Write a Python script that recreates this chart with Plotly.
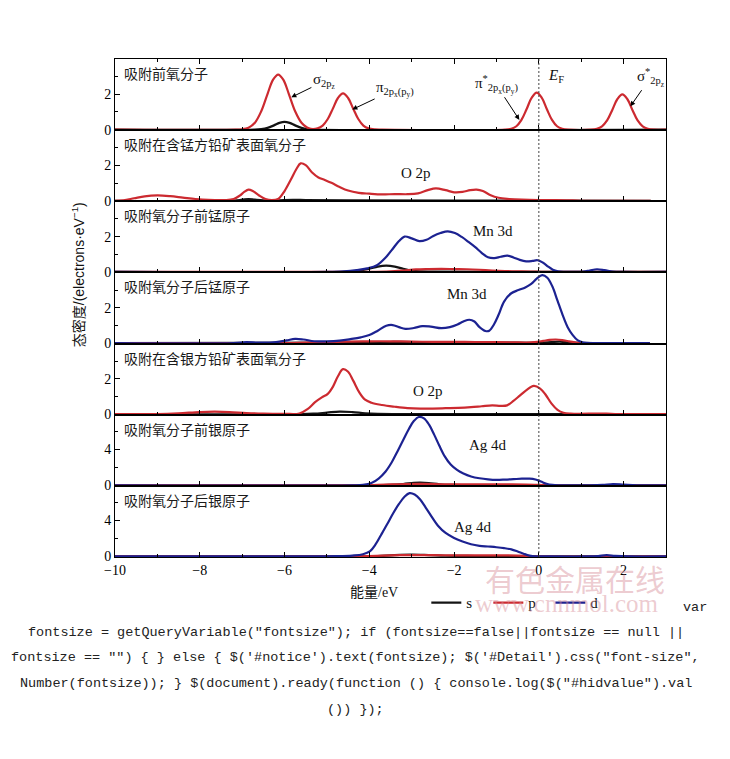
import plotly.graph_objects as go
from plotly.subplots import make_subplots

# ---------------- data ----------------
panel_titles = ["吸附前氧分子", "吸附在含锰方铅矿表面氧分子", "吸附氧分子前锰原子",
                "吸附氧分子后锰原子", "吸附在含银方铅矿表面氧分子", "吸附氧分子前银原子",
                "吸附氧分子后银原子"]
orbital_labels = [None, "O 2p", "Mn 3d", "Mn 3d", "O 2p", "Ag 4d", "Ag 4d"]
orbital_label_x = [None, -2.91, -1.08, -1.69, -2.61, -1.21, -1.56]
orbital_label_y = [None, 1.58, 2.34, 2.80, 1.29, 4.44, 3.25]
y_max = [4.0, 4.0, 4.0, 4.0, 4.0, 7.8, 7.8]
y_major = [[0, 2]] * 5 + [[0, 4]] * 2
y_minor = [[1, 3]] * 5 + [[2, 6]] * 2
x_ticks = [-10, -8, -6, -4, -2, 0, 2]

# panel 1: O2 molecule before adsorption
p1_s_x = [-10, -6.7, -6.55, -6.4, -6.25, -6.12, -6.0, -5.88, -5.75, -5.6, -5.45, -5.3, 3.0]
p1_s_y = [0, 0, 0.03, 0.1, 0.24, 0.38, 0.44, 0.38, 0.24, 0.1, 0.03, 0, 0]
p1_p_x = [-10, -7.15, -7.0, -6.85, -6.7, -6.55, -6.4, -6.27, -6.15, -6.03, -5.9, -5.75, -5.6,
          -5.47, -5.38, -5.22, -5.1, -4.98, -4.86, -4.74, -4.62, -4.5, -4.38, -4.26, -4.14,
          -4.02, -3.87, -3.7, -0.8, -0.65, -0.53, -0.41, -0.29, -0.17, -0.05, 0.07, 0.19,
          0.31, 0.43, 0.55, 0.7, 1.22, 1.37, 1.49, 1.61, 1.73, 1.85, 1.97, 2.09, 2.21, 2.33,
          2.45, 2.57, 2.72, 3.0]
p1_p_y = [0, 0, 0.02, 0.11, 0.39, 1.04, 2.03, 2.83, 3.12, 2.83, 2.03, 1.04, 0.39,
          0.12, 0.04, 0.07, 0.23, 0.60, 1.19, 1.79, 2.05, 1.79, 1.19, 0.60, 0.23,
          0.07, 0.01, 0, 0, 0.05, 0.19, 0.55, 1.15, 1.80, 2.09, 1.80, 1.15,
          0.55, 0.19, 0.05, 0, 0, 0.05, 0.19, 0.52, 1.10, 1.72, 2.0, 1.72, 1.10, 0.52,
          0.19, 0.05, 0, 0]

# panel 2: O on Mn-doped galena
p2_s_x = [-10, -7.2, -7.0, -6.85, -6.7, -6.5, -6.2, -5.8, -5.5, -4.5, 0, 2.64]
p2_s_y = [0, 0.01, 0.06, 0.1, 0.06, 0.02, 0.02, 0.05, 0.04, 0.02, 0.01, 0]
p2_p_x = [-10, -9.8, -9.55, -9.3, -9.0, -8.7, -8.4, -8.1, -7.8, -7.4, -7.2, -7.05, -6.95,
          -6.85, -6.75, -6.6, -6.45, -6.3, -6.15, -6.0, -5.85, -5.72, -5.62, -5.5, -5.35,
          -5.2, -5.05, -4.88, -4.7, -4.5, -4.25, -4.0, -3.7, -3.4, -3.1, -2.85, -2.62,
          -2.43, -2.2, -2.0, -1.8, -1.62, -1.47, -1.32, -1.15, -0.95, -0.7, -0.4, 0.0,
          0.4, 0.8, 1.1, 2.64]
p2_p_y = [0, 0.03, 0.14, 0.25, 0.3, 0.26, 0.18, 0.1, 0.05, 0.04, 0.1, 0.3, 0.5,
          0.63, 0.55, 0.3, 0.1, 0.03, 0.1, 0.55, 1.2, 1.8, 2.12, 2.02, 1.6,
          1.32, 1.18, 1.0, 0.78, 0.58, 0.45, 0.4, 0.36, 0.38, 0.37, 0.42, 0.6,
          0.7, 0.6, 0.48, 0.5, 0.6, 0.63, 0.55, 0.33, 0.17, 0.1, 0.06, 0.04,
          0.04, 0.02, 0, 0]

# panel 3: Mn atom before O2 adsorption
p3_s_x = [-10, -4.6, -4.3, -4.0, -3.8, -3.6, -3.4, -3.2, -3.0, -2.8, -2.5, 0, 3.0]
p3_s_y = [0, 0, 0.05, 0.18, 0.3, 0.35, 0.3, 0.18, 0.08, 0.03, 0.02, 0, 0]
p3_p_x = [-10, -4.0, -3.5, -3.2, -2.9, -2.6, -2.3, -2.0, -1.7, -1.4, -1.1, -0.8, -0.5, -0.2, 0.2, 3.0]
p3_p_y = [0, 0, 0.03, 0.08, 0.14, 0.16, 0.17, 0.16, 0.15, 0.12, 0.08, 0.05, 0.03, 0.02, 0, 0]
p3_d_x = [-10, -5.0, -4.6, -4.3, -4.05, -3.82, -3.62, -3.45, -3.3, -3.17, -3.0, -2.82,
          -2.65, -2.5, -2.32, -2.15, -1.98, -1.82, -1.66, -1.5, -1.35, -1.2, -1.05, -0.9,
          -0.74, -0.6, -0.45, -0.3, -0.15, -0.03, 0.1, 0.22, 0.33, 0.45, 0.6, 0.85, 1.05,
          1.2, 1.37, 1.55, 1.75, 2.0, 3.0]
p3_d_y = [0, 0, 0.03, 0.1, 0.2, 0.38, 0.8, 1.3, 1.75, 2.0, 1.9, 1.74,
          1.82, 2.02, 2.2, 2.3, 2.2, 1.98, 1.7, 1.4, 1.08, 0.83, 0.78, 0.86,
          0.92, 0.82, 0.68, 0.6, 0.62, 0.66, 0.52, 0.3, 0.12, 0.03, 0.0, 0.0, 0.02,
          0.08, 0.15, 0.1, 0.02, 0, 0]

# panel 4: Mn atom after O2 adsorption
p4_s_x = [-10, -4.5, -3.5, -2.5, -1.0, 0.0, 0.3, 0.5, 0.8, 2.62]
p4_s_y = [0, 0.02, 0.06, 0.04, 0.03, 0.02, 0.06, 0.08, 0.02, 0]
p4_p_x = [-10, -6.0, -5.5, -4.5, -4.0, -3.5, -3.0, -2.5, -2.0, -1.5, -1.0, -0.6, -0.3,
          -0.1, 0.1, 0.25, 0.4, 0.55, 0.7, 0.85, 1.0, 2.62]
p4_p_y = [0, 0, 0.03, 0.08, 0.1, 0.1, 0.08, 0.07, 0.07, 0.06, 0.05, 0.04, 0.03,
          0.05, 0.12, 0.18, 0.2, 0.17, 0.1, 0.04, 0, 0]
p4_d_x = [-10, -7.2, -6.9, -6.6, -6.2, -5.95, -5.75, -5.55, -5.3, -5.0, -4.7, -4.45, -4.2,
          -4.0, -3.8, -3.6, -3.45, -3.3, -3.15, -2.95, -2.75, -2.55, -2.3, -2.1, -1.92,
          -1.78, -1.64, -1.52, -1.4, -1.26, -1.17, -1.06, -0.95, -0.82, -0.65, -0.48,
          -0.32, -0.18, -0.05, 0.08, 0.2, 0.32, 0.44, 0.56, 0.68, 0.8, 0.92, 1.05, 1.3, 2.62]
p4_d_y = [0, 0, 0.05, 0.02, 0.05, 0.15, 0.24, 0.2, 0.1, 0.1, 0.14, 0.22, 0.32,
          0.45, 0.7, 0.98, 1.02, 0.9, 0.8, 0.85, 0.96, 0.93, 0.84, 0.9, 1.05,
          1.22, 1.32, 1.22, 0.9, 0.68, 0.7, 1.05, 1.6, 2.35, 2.82, 3.0,
          3.15, 3.35, 3.65, 3.85, 3.7, 3.2, 2.4, 1.6, 0.9, 0.45, 0.15, 0.03, 0, 0]

# panel 5: O on Ag-doped galena
p5_s_x = [-10, -5.6, -5.3, -5.0, -4.7, -4.4, -4.1, -3.8, -3.0, 0, 3.0]
p5_s_y = [0, 0, 0.03, 0.09, 0.15, 0.12, 0.05, 0.02, 0.01, 0, 0]
p5_p_x = [-10, -9.0, -8.5, -8.0, -7.65, -7.3, -6.9, -6.5, -6.0, -5.65, -5.45, -5.28, -5.12,
          -4.98, -4.86, -4.74, -4.62, -4.5, -4.38, -4.24, -4.1, -3.95, -3.7, -3.4, -3.1,
          -2.8, -2.5, -2.2, -1.9, -1.6, -1.35, -1.1, -0.9, -0.75, -0.6, -0.45, -0.3,
          -0.12, 0.03, 0.16, 0.3, 0.44, 0.58, 0.75, 1.0, 1.4, 1.8, 3.0]
p5_p_y = [0, 0.01, 0.05, 0.12, 0.14, 0.12, 0.06, 0.03, 0.02, 0.04, 0.3, 0.68, 0.95,
          1.15, 1.55, 2.15, 2.55, 2.4, 1.9, 1.25, 0.82, 0.65, 0.52, 0.42, 0.34,
          0.31, 0.32, 0.34, 0.36, 0.4, 0.45, 0.5, 0.47, 0.5, 0.75, 1.05, 1.35,
          1.6, 1.45, 1.1, 0.6, 0.25, 0.08, 0.03, 0.02, 0.04, 0.01, 0]

# panel 6: Ag atom before O2 adsorption
p6_s_x = [-10, -3.8, -3.5, -3.2, -2.95, -2.8, -2.6, -2.35, -2.1, -1.5, -0.5, 0.2, 3.0]
p6_s_y = [0, 0, 0.05, 0.15, 0.27, 0.3, 0.25, 0.12, 0.05, 0.03, 0.03, 0, 0]
p6_p_x = [-10, -4.2, -3.8, -3.3, -2.8, -2.3, -1.8, -1.3, -0.8, -0.3, 0, 0.3, 3.0]
p6_p_y = [0, 0, 0.05, 0.12, 0.15, 0.12, 0.1, 0.1, 0.1, 0.08, 0.05, 0, 0]
p6_d_x = [-10, -4.4, -4.15, -3.95, -3.78, -3.62, -3.47, -3.33, -3.2, -3.07, -2.95, -2.83,
          -2.71, -2.59, -2.47, -2.35, -2.22, -2.08, -1.93, -1.78, -1.6, -1.4, -1.2, -1.0,
          -0.8, -0.6, -0.4, -0.22, -0.08, 0.05, 0.18, 0.32, 0.5, 1.2, 1.5, 1.75, 2.0, 2.3, 3.0]
p6_d_y = [0, 0, 0.05, 0.25, 0.75, 1.5, 2.55, 3.8, 5.0, 6.2, 7.1, 7.55,
          7.4, 6.7, 5.6, 4.4, 3.2, 2.3, 1.7, 1.3, 0.98, 0.78, 0.66, 0.6,
          0.63, 0.68, 0.73, 0.74, 0.65, 0.42, 0.17, 0.04, 0, 0, 0.04, 0.14, 0.08, 0, 0]

# panel 7: Ag atom after O2 adsorption
p7_s_x = [-10, -4.2, -3.8, -3.4, -3.0, -2.6, -2.2, -1.5, -0.5, 0, 3.0]
p7_s_y = [0, 0, 0.05, 0.15, 0.2, 0.15, 0.08, 0.05, 0.03, 0, 0]
p7_p_x = [-10, -4.3, -4.0, -3.5, -3.0, -2.5, -2.0, -1.5, -1.0, -0.5, -0.2, 0.1, 3.0]
p7_p_y = [0, 0, 0.05, 0.12, 0.15, 0.14, 0.13, 0.13, 0.12, 0.1, 0.05, 0, 0]
p7_d_x = [-10, -5.5, -4.8, -4.4, -4.15, -3.98, -3.85, -3.72, -3.58, -3.44, -3.3, -3.17,
          -3.05, -2.93, -2.8, -2.67, -2.53, -2.38, -2.2, -2.0, -1.8, -1.6, -1.4, -1.2,
          -1.0, -0.82, -0.65, -0.5, -0.36, -0.22, -0.05, 0.2, 1.2, 1.4, 1.6, 1.8, 2.1, 3.0]
p7_d_y = [0, 0, 0.03, 0.1, 0.25, 0.6, 1.35, 2.4, 3.55, 4.75, 5.8, 6.6,
          7.0, 6.85, 6.3, 5.4, 4.4, 3.4, 2.6, 2.05, 1.65, 1.35, 1.18, 1.1,
          1.02, 0.92, 0.78, 0.55, 0.3, 0.1, 0.02, 0, 0, 0.05, 0.14, 0.06, 0, 0]

panels = [
    {"s": (p1_s_x, p1_s_y), "p": (p1_p_x, p1_p_y)},
    {"s": (p2_s_x, p2_s_y), "p": (p2_p_x, p2_p_y)},
    {"s": (p3_s_x, p3_s_y), "p": (p3_p_x, p3_p_y), "d": (p3_d_x, p3_d_y)},
    {"s": (p4_s_x, p4_s_y), "p": (p4_p_x, p4_p_y), "d": (p4_d_x, p4_d_y)},
    {"s": (p5_s_x, p5_s_y), "p": (p5_p_x, p5_p_y)},
    {"s": (p6_s_x, p6_s_y), "p": (p6_p_x, p6_p_y), "d": (p6_d_x, p6_d_y)},
    {"s": (p7_s_x, p7_s_y), "p": (p7_p_x, p7_p_y), "d": (p7_d_x, p7_d_y)},
]

colors = {"s": "#141414", "p": "#cc2a30", "d": "#1c2291"}

# ---------------- figure ----------------
SERIF = "Liberation Serif, Times New Roman, serif"
CJK = "Noto Sans CJK SC"

fig = make_subplots(rows=7, cols=1, shared_xaxes=True, vertical_spacing=0)

legend_done = set()
for i, pnl in enumerate(panels):
    for orb in ["s", "p", "d"]:
        if orb not in pnl:
            continue
        xs, ys = pnl[orb]
        show = orb not in legend_done
        legend_done.add(orb)
        fig.add_trace(go.Scatter(
            x=xs, y=ys, mode="lines", name=orb, legendgroup=orb, showlegend=show,
            line=dict(color=colors[orb], width=2.2, shape="spline", smoothing=1.0),
            hoverinfo="skip"), row=i + 1, col=1)

for i in range(7):
    r = i + 1
    fig.update_yaxes(range=[-0.03 * y_max[i] / 4, y_max[i]], tickvals=y_major[i],
                     ticks="inside", ticklen=5, tickcolor="black",
                     minor=dict(tickvals=y_minor[i], ticks="inside", ticklen=3, tickcolor="black"),
                     showline=True, linecolor="black", linewidth=1, mirror=True,
                     showgrid=False, zeroline=False,
                     tickfont=dict(family=SERIF, size=14, color="black"), row=r, col=1)
    fig.update_xaxes(range=[-10, 3.0], tickvals=x_ticks,
                     ticks="inside", ticklen=5, tickcolor="black",
                     minor=dict(dtick=1, ticks="inside", ticklen=3, tickcolor="black"),
                     showline=True, linecolor="black", linewidth=1,
                     mirror="ticks" if r == 1 else True,
                     showgrid=False, zeroline=False,
                     tickfont=dict(family=SERIF, size=14, color="black"), row=r, col=1)

annotations = []
for i in range(7):
    suffix = "" if i == 0 else str(i + 1)
    annotations.append(dict(text=panel_titles[i], xref=f"x{suffix} domain", yref=f"y{suffix} domain",
                            x=0.012, y=1, yshift=-14, xanchor="left", yanchor="middle",
                            showarrow=False, font=dict(family=CJK, size=14, color="#1a1a1a")))
    if orbital_labels[i]:
        annotations.append(dict(text=orbital_labels[i], xref=f"x{suffix}", yref=f"y{suffix}",
                                x=orbital_label_x[i], y=orbital_label_y[i], showarrow=False,
                                xanchor="center", yanchor="middle",
                                font=dict(family=SERIF, size=15, color="#111")))

# molecular orbital labels in the first panel (text at tail, arrow to curve)
mo_labels = [
    ("σ<sub>2p<sub>z</sub></sub>", -5.06, 2.75, -5.84, 1.83),
    ("π<sub>2p<sub>x</sub>(p<sub>y</sub>)</sub>", -3.39, 2.29, -4.40, 1.14),
    ("π<sup>*</sup><sub>2p<sub>x</sub>(p<sub>y</sub>)</sub>", -1.01, 2.57, -0.46, 0.55),
    ("σ<sup>*</sup><sub>2p<sub>z</sub></sub>", 2.64, 2.97, 2.16, 1.32),
]
for txt, tx, ty, hx, hy in mo_labels:
    annotations.append(dict(text=txt, xref="x", yref="y", axref="x", ayref="y",
                            x=hx, y=hy, ax=tx, ay=ty, showarrow=True, arrowhead=2,
                            arrowsize=1, arrowwidth=1, arrowcolor="black", standoff=0,
                            font=dict(family=SERIF, size=15, color="#111")))
annotations.append(dict(text="<i>E</i><sub>F</sub>", xref="x", yref="y", x=0.41, y=3.06,
                        showarrow=False, xanchor="center", yanchor="middle",
                        font=dict(family=SERIF, size=15, color="#111")))

# axis titles
annotations.append(dict(text="态密度/(electrons·eV<sup>−1</sup>)", xref="paper", yref="paper",
                        x=-0.067, y=0.566, textangle=-90, showarrow=False,
                        xanchor="center", yanchor="middle",
                        font=dict(family="Liberation Sans, " + CJK, size=14, color="#111")))
annotations.append(dict(text="能量/eV", xref="paper", yref="paper", x=0.47, y=-0.072,
                        showarrow=False, xanchor="center", yanchor="middle",
                        font=dict(family=SERIF + ", " + CJK, size=14, color="#111")))

# watermark
annotations.append(dict(text="有色金属在线", xref="paper", yref="paper", x=0.835, y=-0.042,
                        showarrow=False, xanchor="center", yanchor="middle",
                        font=dict(family=CJK, size=30, color="rgba(214,140,150,0.45)")))
annotations.append(dict(text="www.cnnmol.com", xref="paper", yref="paper", x=0.82, y=-0.093,
                        showarrow=False, xanchor="center", yanchor="middle",
                        font=dict(family=SERIF, size=25, color="rgba(214,140,150,0.45)")))

# page text below the chart
code_lines = [
    ('fontsize = getQueryVariable("fontsize"); if (fontsize==false||fontsize == null ||', -0.151),
    ('fontsize == "") { } else { $(\'#notice\').text(fontsize); $(\'#Detail\').css("font-size",', -0.201),
    ('Number(fontsize)); } $(document).ready(function () { console.log($("#hidvalue").val', -0.255),
    ('()) });', -0.307),
]
for txt, yy in code_lines:
    annotations.append(dict(text=txt, xref="paper", yref="paper", x=0.437, y=yy, showarrow=False,
                            xanchor="center", yanchor="middle",
                            font=dict(family="Liberation Mono", size=13.5, color="#222")))
annotations.append(dict(text="var", xref="paper", yref="paper", x=1.053, y=-0.102, showarrow=False,
                        xanchor="center", yanchor="middle",
                        font=dict(family="Liberation Mono", size=13.5, color="#222")))

fig.update_layout(
    width=730, height=759, autosize=False,
    margin=dict(l=115, r=64, t=59, b=202),
    paper_bgcolor="white", plot_bgcolor="white",
    annotations=annotations,
    shapes=[dict(type="line", xref="x", yref="paper", x0=0, x1=0, y0=0, y1=1,
                 line=dict(color="#444", width=1, dash="2px,2px"))],
    legend=dict(orientation="h", x=0.565, y=-0.092, xanchor="left", yanchor="middle",
                bgcolor="rgba(0,0,0,0)", font=dict(family=SERIF, size=15, color="#111"),
                entrywidth=17, entrywidthmode="pixels", tracegroupgap=0),
    showlegend=True,
)

fig.write_html("out.html", config={"displayModeBar": False},
               post_script="document.body.style.margin='0px';")
